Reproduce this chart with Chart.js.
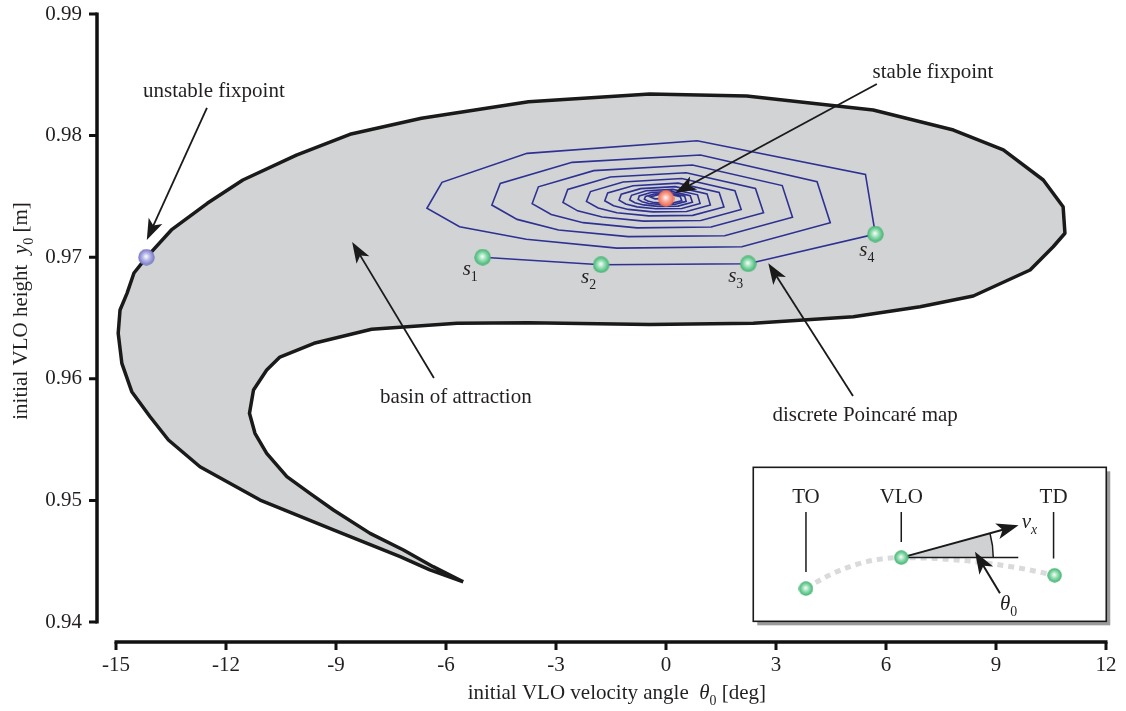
<!DOCTYPE html>
<html>
<head>
<meta charset="utf-8">
<script src="https://cdn.jsdelivr.net/npm/chart.js@4/dist/chart.umd.min.js"></script>
<style>
  body { margin: 0; background: #fff; }
  #wrap { width: 1126px; height: 711px; }
</style>
</head>
<body>
<div id="wrap"><canvas id="chart" width="1126" height="711"></canvas></div>
<script>
// Basin of attraction outline (theta0 [deg], y0 [m]), traced clockwise from the tip
const basinX = [-5.53, -6.44, -7.25, -9.07, -11.07, -12.71, -13.57, -14.07, -14.57, -14.84, -14.94, -14.89, -14.70, -14.51, -14.17, -13.49, -12.51, -11.54, -10.08, -8.62, -6.67, -3.75, -0.44, 2.20, 5.65, 7.84, 9.20, 10.29, 10.83, 10.88, 10.56, 9.93, 8.38, 6.93, 5.11, 2.38, -0.44, -3.75, -5.70, -8.03, -9.60, -10.53, -10.89, -11.25, -11.36, -11.21, -10.89, -10.34, -9.71, -9.07, -8.07, -7.16, -6.35, -5.53];
const basinY = [0.94331, 0.94428, 0.94537, 0.94757, 0.95003, 0.95277, 0.95497, 0.95688, 0.95894, 0.96127, 0.96374, 0.96566, 0.96703, 0.96870, 0.96999, 0.97224, 0.97443, 0.97635, 0.97840, 0.98011, 0.98142, 0.98279, 0.98342, 0.98326, 0.98211, 0.98046, 0.97882, 0.97635, 0.97415, 0.97197, 0.97086, 0.96895, 0.96681, 0.96593, 0.96511, 0.96456, 0.96447, 0.96461, 0.96456, 0.96407, 0.96292, 0.96179, 0.96072, 0.95908, 0.95716, 0.95552, 0.95387, 0.95195, 0.95058, 0.94921, 0.94729, 0.94592, 0.94455, 0.94331];

// Discrete Poincare map iterates, starting at s1
const spiralX = [-5.00, -1.77, 2.24, 5.71, 5.44, 0.85, -3.79, -6.11, -6.52, -5.63,
  -3.81, -1.34, 2.07, 4.48, 4.12, 0.94, -2.56, -4.52, -4.75, -4.06,
  -2.93, -1.03, 1.60, 3.45, 3.17, 0.72, -1.97, -3.48, -3.65, -3.13,
  -2.26, -0.79, 1.23, 2.66, 2.44, 0.55, -1.52, -2.68, -2.81, -2.41,
  -1.74, -0.61, 0.95, 2.05, 1.88, 0.43, -1.17, -2.06, -2.17, -1.85,
  -1.34, -0.47, 0.73, 1.58, 1.45, 0.33, -0.90, -1.59, -1.67, -1.43,
  -1.03, -0.36, 0.56, 1.21, 1.12, 0.25, -0.69, -1.22, -1.28, -1.10,
  -0.79, -0.28, 0.43, 0.93, 0.86, 0.19, -0.54, -0.94, -0.99, -0.85,
  -0.61, -0.22, 0.33, 0.72, 0.66, 0.15, -0.41, -0.73, -0.76, -0.65,
  -0.47, -0.17, 0.26, 0.55, 0.51, 0.12, -0.32, -0.56, -0.59, -0.50,
  -0.36, -0.13, 0.20, 0.43, 0.39, 0.09, -0.24, -0.43, -0.30, 0.00];
const spiralY = [0.97000, 0.96938, 0.96946, 0.97190, 0.97681, 0.97958, 0.97854, 0.97616, 0.97402, 0.97250,
  0.97147, 0.97075, 0.97086, 0.97283, 0.97621, 0.97840, 0.97780, 0.97607, 0.97429, 0.97311,
  0.97224, 0.97169, 0.97177, 0.97329, 0.97589, 0.97758, 0.97712, 0.97579, 0.97441, 0.97351,
  0.97284, 0.97241, 0.97248, 0.97365, 0.97565, 0.97695, 0.97659, 0.97557, 0.97451, 0.97381,
  0.97330, 0.97297, 0.97302, 0.97393, 0.97547, 0.97647, 0.97619, 0.97540, 0.97459, 0.97405,
  0.97366, 0.97340, 0.97344, 0.97413, 0.97532, 0.97609, 0.97588, 0.97528, 0.97464, 0.97423,
  0.97393, 0.97373, 0.97376, 0.97430, 0.97521, 0.97580, 0.97564, 0.97518, 0.97469, 0.97437,
  0.97414, 0.97398, 0.97401, 0.97442, 0.97513, 0.97558, 0.97546, 0.97509, 0.97472, 0.97448,
  0.97430, 0.97418, 0.97420, 0.97452, 0.97506, 0.97541, 0.97532, 0.97504, 0.97475, 0.97456,
  0.97442, 0.97434, 0.97435, 0.97459, 0.97501, 0.97528, 0.97520, 0.97500, 0.97477, 0.97463,
  0.97452, 0.97446, 0.97447, 0.97465, 0.97497, 0.97518, 0.97512, 0.97496, 0.97480, 0.97484];

// Labelled iterates s1..s4
const mapX = [-5.00, -1.77, 2.24, 5.71];
const mapY = [0.97000, 0.96938, 0.96946, 0.97190];
const mapLabels = ['1', '2', '3', '4'];

// Fixpoints
const stableX = [0.00], stableY = [0.97484];
const unstableX = [-14.17], unstableY = [0.97000];

// Axis ranges
const xMin = -15, xMax = 12, xStep = 3;
const yMin = 0.94, yMax = 0.99, yStep = 0.01;

// Callouts: text position, arrow tail, arrow tip (data units)
const callouts = [
  { text: 'unstable fixpoint', at: [-12.33, 0.98360], from: [-12.52, 0.98227], to: [-14.16, 0.97142] },
  { text: 'stable fixpoint', at: [7.28, 0.98515], from: [5.75, 0.98424], to: [0.25, 0.97528] },
  { text: 'basin of attraction', at: [-5.73, 0.95850], from: [-6.33, 0.96007], to: [-8.56, 0.97125] },
  { text: 'discrete Poincaré map', at: [5.43, 0.95702], from: [5.10, 0.95859], to: [2.79, 0.96950] }
];
const insetAt = [2.38, 0.95272];

const FONT = '"Liberation Serif", "Times New Roman", serif';
const INK = '#231f20';

const pts = (xs, ys) => xs.map((x, i) => ({ x, y: ys[i] }));

// Shaded ball used as point style
function sphere(size, edge, mid) {
  const c = document.createElement('canvas');
  c.width = c.height = size;
  const g = c.getContext('2d');
  const r = size / 2;
  const grad = g.createRadialGradient(r * 0.95, r * 0.9, 0, r, r, r);
  grad.addColorStop(0, '#ffffff');
  grad.addColorStop(0.45, mid);
  grad.addColorStop(1, edge);
  g.fillStyle = grad;
  g.beginPath();
  g.arc(r, r, r - 0.3, 0, Math.PI * 2);
  g.fill();
  return c;
}
const greenBall = sphere(17, '#3aae6b', '#93deb2');
const smallGreen = sphere(15, '#3aae6b', '#93deb2');
const redBall = sphere(17, '#ee6248', '#f9a897');
const blueBall = sphere(17, '#7070c2', '#b6b6e8');

// Draw mixed regular / italic / subscript text
function richText(ctx, parts, x, y, size, align) {
  const fonts = parts.map(p => (p.i ? 'italic ' : '') + (p.sub ? size * 0.66 : size) + 'px ' + FONT);
  let w = 0;
  parts.forEach((p, k) => { ctx.font = fonts[k]; w += ctx.measureText(p.t).width; });
  let cx = align === 'center' ? x - w / 2 : x;
  ctx.textAlign = 'left';
  ctx.textBaseline = 'alphabetic';
  parts.forEach((p, k) => {
    ctx.font = fonts[k];
    ctx.fillText(p.t, cx, y + (p.sub ? size * 0.28 : 0));
    cx += ctx.measureText(p.t).width;
  });
}

function arrow(ctx, x0, y0, x1, y1, lw, len, half) {
  const a = Math.atan2(y1 - y0, x1 - x0);
  const c = Math.cos(a), s = Math.sin(a);
  ctx.lineWidth = lw;
  ctx.beginPath();
  ctx.moveTo(x0, y0);
  ctx.lineTo(x1 - c * len * 0.7, y1 - s * len * 0.7);
  ctx.stroke();
  ctx.beginPath();
  ctx.moveTo(x1, y1);
  ctx.lineTo(x1 - c * len - s * half, y1 - s * len + c * half);
  ctx.lineTo(x1 - c * len * 0.75, y1 - s * len * 0.75);
  ctx.lineTo(x1 - c * len + s * half, y1 - s * len - c * half);
  ctx.closePath();
  ctx.fill();
}

const decorations = {
  id: 'decorations',
  afterDatasetsDraw(chart) {
    const { ctx, chartArea: area, scales: { x, y } } = chart;
    ctx.save();

    // offset axis lines with outward ticks
    ctx.strokeStyle = '#111';
    ctx.lineWidth = 3.5;
    const ax = area.left - 19;
    const ay = area.bottom + 20;
    ctx.beginPath();
    ctx.moveTo(ax, y.getPixelForValue(yMax) - 1.5);
    ctx.lineTo(ax, y.getPixelForValue(yMin) + 1.5);
    ctx.moveTo(x.getPixelForValue(xMin) - 1.5, ay);
    ctx.lineTo(x.getPixelForValue(xMax) + 1.5, ay);
    ctx.stroke();
    ctx.lineWidth = 3;
    ctx.beginPath();
    y.ticks.forEach(t => {
      const py = y.getPixelForValue(t.value);
      ctx.moveTo(ax, py);
      ctx.lineTo(ax - 8, py);
    });
    x.ticks.forEach(t => {
      const px = x.getPixelForValue(t.value);
      ctx.moveTo(px, ay);
      ctx.lineTo(px, ay + 8);
    });
    ctx.stroke();

    // axis titles
    ctx.fillStyle = INK;
    richText(ctx, [{ t: 'initial VLO velocity angle  ' }, { t: 'θ', i: true }, { t: '0', sub: true }, { t: ' [deg]' }],
      x.getPixelForValue(-1.34), area.bottom + 77, 21, 'center');
    ctx.save();
    ctx.translate(27, (area.top + area.bottom) / 2 - 7);
    ctx.rotate(-Math.PI / 2);
    richText(ctx, [{ t: 'initial VLO height  ' }, { t: 'y', i: true }, { t: '0', sub: true }, { t: ' [m]' }], 0, 0, 21, 'center');
    ctx.restore();

    // s_i labels
    mapX.forEach((v, k) => {
      const px = x.getPixelForValue(v), py = y.getPixelForValue(mapY[k]);
      const dx = k === 3 ? -16 : -20, dy = k === 3 ? 22 : 18;
      richText(ctx, [{ t: 's', i: true }, { t: mapLabels[k], sub: true }], px + dx, py + dy, 21, 'left');
    });

    // callouts
    ctx.strokeStyle = '#1a1a1a';
    ctx.fillStyle = '#1a1a1a';
    callouts.forEach(c => {
      arrow(ctx, x.getPixelForValue(c.from[0]), y.getPixelForValue(c.from[1]),
        x.getPixelForValue(c.to[0]), y.getPixelForValue(c.to[1]), 1.8, 21, 7.5);
    });
    ctx.fillStyle = INK;
    ctx.font = '21px ' + FONT;
    ctx.textAlign = 'center';
    ctx.textBaseline = 'middle';
    callouts.forEach(c => {
      ctx.fillText(c.text, x.getPixelForValue(c.at[0]), y.getPixelForValue(c.at[1]));
    });

    // inset sketch of the apex geometry
    const bx = x.getPixelForValue(insetAt[0]), by = y.getPixelForValue(insetAt[1]);
    const bw = 353, bh = 154;
    ctx.fillStyle = '#9b9b9b';
    ctx.fillRect(bx + 4, by + 4, bw, bh);
    ctx.fillStyle = '#fff';
    ctx.fillRect(bx, by, bw, bh);
    ctx.strokeStyle = '#1a1a1a';
    ctx.lineWidth = 1.6;
    ctx.strokeRect(bx, by, bw, bh);

    const TO = [bx + 52.7, by + 121.3], VLO = [bx + 148, by + 90.3], TD = [bx + 301.3, by + 108];
    ctx.save();
    ctx.setLineDash([6, 5]);
    ctx.strokeStyle = '#d9dadb';
    ctx.lineWidth = 5;
    ctx.beginPath();
    ctx.moveTo(TO[0], TO[1]);
    ctx.quadraticCurveTo(bx + 100, VLO[1], VLO[0], VLO[1]);
    ctx.quadraticCurveTo(bx + 225, VLO[1], TD[0], TD[1]);
    ctx.stroke();
    ctx.restore();

    const tip = [bx + 265.3, by + 58];
    const ang = Math.atan2(tip[1] - VLO[1], tip[0] - VLO[0]);
    const rr = 92;
    ctx.fillStyle = '#cfd1d2';
    ctx.beginPath();
    ctx.moveTo(VLO[0], VLO[1]);
    ctx.lineTo(VLO[0] + rr, VLO[1]);
    ctx.arc(VLO[0], VLO[1], rr, 0, ang, true);
    ctx.closePath();
    ctx.fill();
    ctx.strokeStyle = '#1a1a1a';
    ctx.lineWidth = 1.5;
    ctx.beginPath();
    ctx.arc(VLO[0], VLO[1], rr, 0, ang, true);
    ctx.stroke();
    ctx.beginPath();
    ctx.moveTo(VLO[0], VLO[1]);
    ctx.lineTo(bx + 265, VLO[1]);
    ctx.moveTo(TO[0], by + 44.7);
    ctx.lineTo(TO[0], by + 104.7);
    ctx.moveTo(VLO[0], by + 44.7);
    ctx.lineTo(VLO[0], by + 74.7);
    ctx.moveTo(bx + 300.3, by + 44.7);
    ctx.lineTo(bx + 300.3, by + 91.3);
    ctx.stroke();
    ctx.fillStyle = '#1a1a1a';
    arrow(ctx, VLO[0], VLO[1], tip[0], tip[1], 2, 22, 8);
    arrow(ctx, bx + 246.7, by + 126, bx + 221.7, by + 84.4, 2, 22, 8);

    [TO, VLO, TD].forEach(p => ctx.drawImage(smallGreen, p[0] - 7.5, p[1] - 7.5));

    ctx.fillStyle = INK;
    ctx.font = '21px ' + FONT;
    ctx.textAlign = 'center';
    ctx.textBaseline = 'middle';
    ctx.fillText('TO', TO[0], by + 30);
    ctx.fillText('VLO', VLO[0], by + 30);
    ctx.fillText('TD', bx + 300.3, by + 30);
    richText(ctx, [{ t: 'v', i: true }, { t: 'x', i: true, sub: true }], bx + 268.4, by + 60.7, 21, 'left');
    richText(ctx, [{ t: 'θ', i: true }, { t: '0', sub: true }], bx + 246.7, by + 142.7, 21, 'left');

    ctx.restore();
  }
};

new Chart(document.getElementById('chart'), {
  type: 'scatter',
  data: {
    datasets: [
      {
        label: 'basin of attraction',
        data: pts(basinX, basinY),
        showLine: true,
        fill: 'shape',
        backgroundColor: '#d1d3d4',
        borderColor: '#1a1a1a',
        borderWidth: 3.5,
        borderJoinStyle: 'round',
        pointRadius: 0,
        tension: 0,
        order: 5
      },
      {
        label: 'Poincaré map',
        data: pts(spiralX, spiralY),
        showLine: true,
        fill: false,
        borderColor: '#2e3192',
        borderWidth: 1.6,
        pointRadius: 0,
        tension: 0,
        order: 4
      },
      {
        label: 's',
        data: pts(mapX, mapY),
        pointStyle: greenBall,
        pointRadius: 8,
        order: 2
      },
      {
        label: 'stable fixpoint',
        data: pts(stableX, stableY),
        pointStyle: redBall,
        pointRadius: 8,
        order: 1
      },
      {
        label: 'unstable fixpoint',
        data: pts(unstableX, unstableY),
        pointStyle: blueBall,
        pointRadius: 8,
        order: 1
      }
    ]
  },
  options: {
    responsive: false,
    animation: false,
    layout: { padding: { top: 14, right: 20, left: 0, bottom: 0 } },
    plugins: { legend: { display: false }, tooltip: { enabled: false } },
    scales: {
      x: {
        type: 'linear',
        min: xMin,
        max: xMax,
        grid: { display: false, drawTicks: false },
        border: { display: false },
        ticks: { stepSize: xStep, padding: 31, color: INK, font: { family: FONT, size: 21 }, callback: v => String(v) },
        afterFit: s => { s.height = 89; s.paddingLeft = 0; s.paddingRight = 0; }
      },
      y: {
        type: 'linear',
        min: yMin,
        max: yMax,
        grid: { display: false, drawTicks: false },
        border: { display: false },
        ticks: { stepSize: yStep, padding: 34, color: INK, font: { family: FONT, size: 21 }, callback: v => v.toFixed(2) },
        afterFit: s => { s.width = 116; s.paddingTop = 0; s.paddingBottom = 0; }
      }
    }
  },
  plugins: [decorations]
});
</script>
</body>
</html>
